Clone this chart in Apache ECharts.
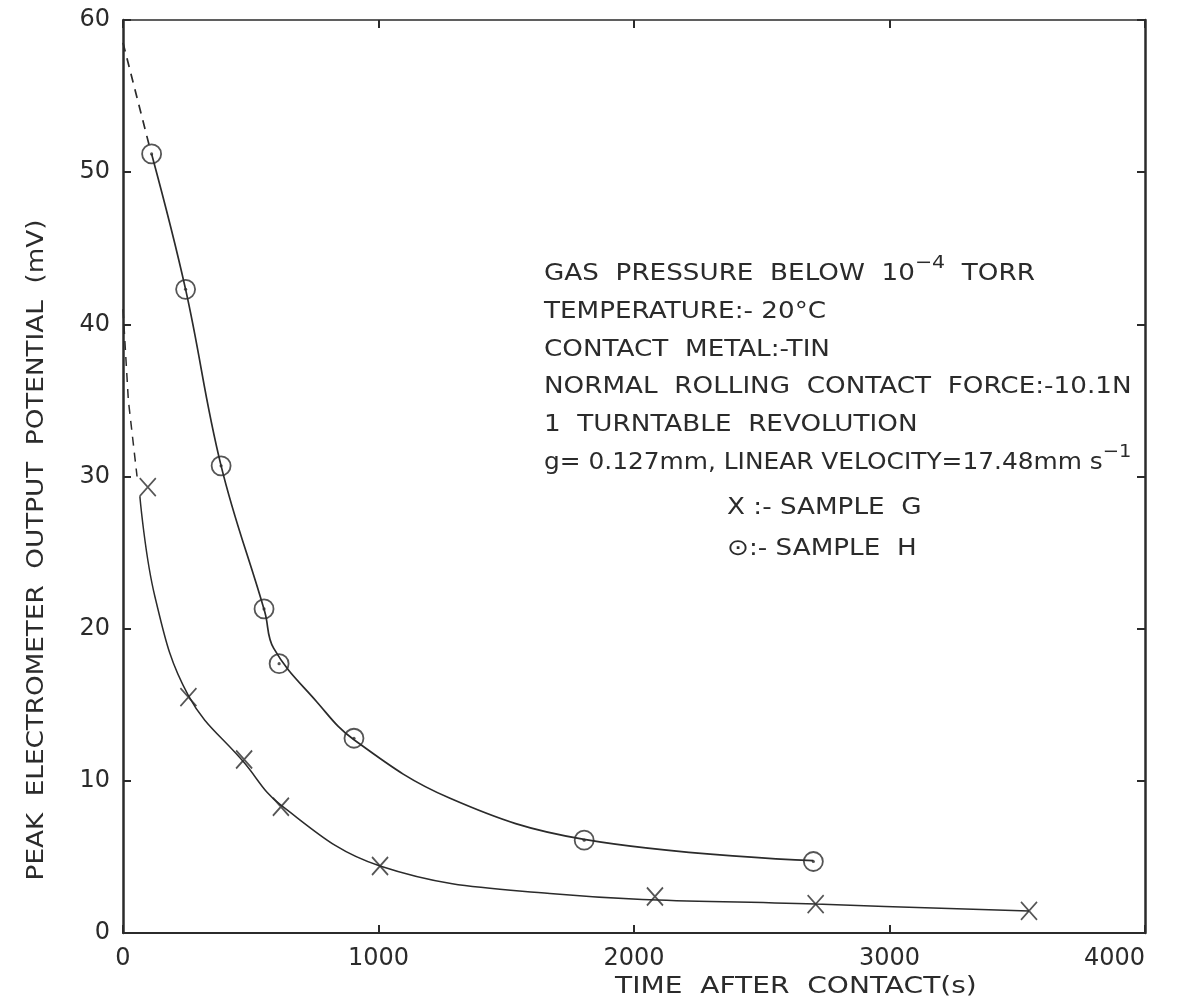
<!DOCTYPE html>
<html>
<head>
<meta charset="utf-8">
<script src="https://cdn.jsdelivr.net/npm/echarts@6.0.0/dist/echarts.min.js"></script>
<style>
  html, body { margin: 0; padding: 0; background: #ffffff; }
  #chart { width: 1196px; height: 1007px; }
</style>
</head>
<body>
<div id="chart"></div>
<script>
// Axis ranges
const xRange = [0, 4000];
const xStep = 1000;
const yRange = [0, 60];
const yStep = 10;

// Measured points: X markers (sample G) and dotted circles (sample H); time in s, potential in mV
const sampleG = [[97, 29.3], [256, 15.5], [474, 11.4], [618, 8.3], [1006, 4.4], [2082, 2.4], [2711, 1.9], [3546, 1.45]];
const sampleH = [[112, 51.2], [245, 42.3], [384, 30.7], [552, 21.3], [611, 17.7], [904, 12.8], [1805, 6.1], [2702, 4.7]];

// Hand-drawn fitted curves through each sample
const curveG = [[66, 28.7], [125, 22.1], [256, 15.6], [474, 11.2], [618, 8.4], [1006, 4.4], [1671, 2.6],
  [2711, 1.9], [3546, 1.45]];
const curveH = [[112, 51.2], [245, 42.3], [384, 30.7], [555, 21.1], [590, 18.7], [758, 15.2], [904, 12.7],
  [1280, 8.85], [1805, 6.15], [2702, 4.75]];

// Dashed extrapolation towards t = 0
const extrapG = [[0, 41], [21, 35], [55, 30]];
const extrapH = [[0, 58.5], [105, 51.6]];

// Text
const xTitle = 'TIME  AFTER  CONTACT(s)';
const yTitle = 'PEAK  ELECTROMETER  OUTPUT  POTENTIAL  (mV)';
const noteLines = [
  '{n|GAS  PRESSURE  BELOW  10}{s|\u22124}{n|  TORR}',
  '{n|TEMPERATURE:- 20\u00b0C}',
  '{n|CONTACT  METAL:-TIN}',
  '{n|NORMAL  ROLLING  CONTACT  FORCE:-10.1N}',
  '{n|1  TURNTABLE  REVOLUTION}',
  '{n|g= 0.127mm, LINEAR VELOCITY=17.48mm s}{s|\u22121}'
];
const noteStretch = [1.14, 1.14, 1.14, 1.14, 1.14, 1.08];
const keyLines = ['X :- SAMPLE  G', '\u2299:- SAMPLE  H'];

const INK = '#2b2b2b';
const FONT = 'DejaVu Sans';
const TICK_LEN = 8;

const chart = echarts.init(document.getElementById('chart'), null, { renderer: 'canvas' });

const richStyles = {
  n: { fontFamily: FONT, fontSize: 23, lineHeight: 40, fill: INK, color: INK },
  s: { fontFamily: FONT, fontSize: 18, lineHeight: 18, verticalAlign: 'top', fill: INK, color: INK }
};

const graphics = [];
noteLines.forEach(function (t, i) {
  graphics.push({
    type: 'text', x: 544, y: 274 + i * 37.8, scaleX: noteStretch[i], silent: true,
    style: { text: t, rich: richStyles, font: '23px ' + FONT, fill: INK, verticalAlign: 'middle', align: 'left' }
  });
});
keyLines.forEach(function (t, i) {
  graphics.push({
    type: 'text', x: 727, y: 508 + i * 41, scaleX: 1.14, silent: true,
    style: { text: t, font: '23px ' + FONT, fill: INK, verticalAlign: 'middle', align: 'left' }
  });
});
graphics.push({
  type: 'text', x: 615, y: 987, scaleX: 1.22, silent: true,
  style: { text: xTitle, font: '23px ' + FONT, fill: INK, verticalAlign: 'middle', align: 'left' }
});
graphics.push({
  type: 'text', x: 37, y: 550, rotation: Math.PI / 2, scaleX: 1.14, silent: true,
  style: { text: yTitle, font: '23px ' + FONT, fill: INK, verticalAlign: 'middle', align: 'center' }
});

const labelStyle = {
  color: INK, fontFamily: FONT, fontSize: 24,
  formatter: function (v) { return String(v); }
};

// Frame axis: line (+ optional labels), no ticks
function frameAxis(type, position, range, step, lineWidth, label) {
  return {
    type: 'value', position: position, min: range[0], max: range[1], interval: step,
    axisLine: { show: true, onZero: false, lineStyle: { color: INK, width: lineWidth } },
    axisTick: { show: false },
    axisLabel: label ? label : { show: false },
    splitLine: { show: false }
  };
}
// Tick-only axis pulled into the frame so its outward ticks end on the frame line
function tickAxis(position, range, step) {
  return {
    type: 'value', position: position, offset: -TICK_LEN, min: range[0], max: range[1], interval: step,
    axisLine: { show: false, onZero: false },
    axisTick: { show: true, length: TICK_LEN, lineStyle: { color: INK, width: 2 } },
    axisLabel: { show: false },
    splitLine: { show: false }
  };
}

const option = {
  backgroundColor: '#ffffff',
  animation: false,
  grid: { left: 123, right: 51, top: 20, bottom: 74, containLabel: false },
  xAxis: [
    frameAxis('x', 'bottom', xRange, xStep, 2, Object.assign({ margin: 14, alignMaxLabel: 'right' }, labelStyle)),
    frameAxis('x', 'top', xRange, xStep, 1.5, null),
    tickAxis('bottom', xRange, xStep),
    tickAxis('top', xRange, xStep)
  ],
  yAxis: [
    frameAxis('y', 'left', yRange, yStep, 2.5, Object.assign({ margin: 13 }, labelStyle)),
    frameAxis('y', 'right', yRange, yStep, 2.5, null),
    tickAxis('left', yRange, yStep),
    tickAxis('right', yRange, yStep)
  ],
  graphic: graphics,
  series: [
    {
      name: 'curve H', type: 'line', data: curveH, smooth: 0.4,
      showSymbol: false, silent: true, lineStyle: { color: INK, width: 1.7 }
    },
    {
      name: 'extrapolation H', type: 'line', data: extrapH, showSymbol: false, silent: true,
      lineStyle: { color: INK, width: 1.7, type: [9, 7] }
    },
    {
      name: 'curve G', type: 'line', data: curveG, smooth: 0.4,
      showSymbol: false, silent: true, lineStyle: { color: INK, width: 1.5 }
    },
    {
      name: 'extrapolation G', type: 'line', data: extrapG, showSymbol: false, silent: true,
      lineStyle: { color: INK, width: 1.5, type: [9, 7] }
    },
    {
      name: 'Sample G', type: 'scatter', data: sampleG, silent: true,
      symbol: 'path://M0,0L10,12M10,0L0,12', symbolSize: [16, 18],
      itemStyle: { color: 'rgba(0,0,0,0)', borderColor: INK, borderWidth: 1.8 }
    },
    {
      name: 'Sample H', type: 'scatter', data: sampleH, silent: true,
      symbol: 'circle', symbolSize: 19,
      itemStyle: { color: 'rgba(255,255,255,0)', borderColor: INK, borderWidth: 1.8 }
    },
    {
      name: 'Sample H centre', type: 'scatter', data: sampleH, silent: true,
      symbol: 'circle', symbolSize: 3.2,
      itemStyle: { color: INK }
    }
  ]
};

chart.setOption(option);
</script>
</body>
</html>
